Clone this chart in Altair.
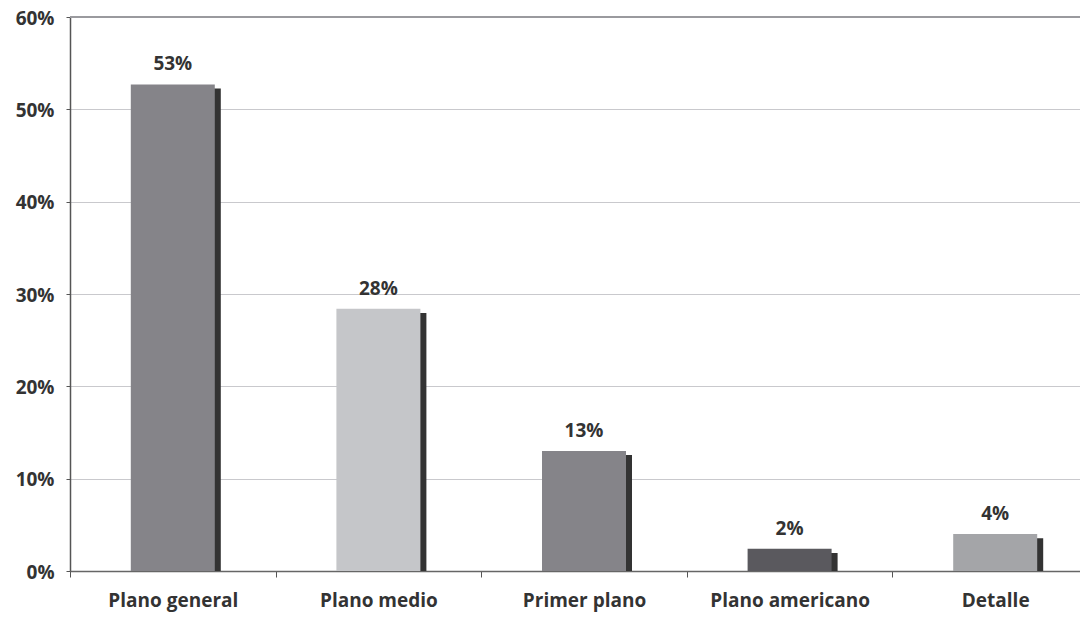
import altair as alt
import pandas as pd

categories = ["Plano general", "Plano medio", "Primer plano", "Plano americano", "Detalle"]
values = [52.7, 28.4, 13.0, 2.4, 4.0]
labels = ["53%", "28%", "13%", "2%", "4%"]
palette = ["#858489", "#c5c6c9", "#858489", "#5a595e", "#a4a5a8"]

df = pd.DataFrame({"cat": categories, "val": values, "lab": labels})

FONT = "Open Sans"
TXT = "#333333"
FS = 19

x = alt.X("cat:N", sort=categories, title=None,
          scale=alt.Scale(paddingInner=0, paddingOuter=0),
          axis=alt.Axis(labelAngle=0, labelFont=FONT, labelFontSize=FS, labelFontWeight="bold",
                        labelColor=TXT, labelPadding=14, tickBand="extent", tickSize=6,
                        tickColor="#555555", domainColor="#666666", domainWidth=1.5, grid=False))
y = alt.Y("val:Q", title=None,
          scale=alt.Scale(domain=[0, 60], nice=False),
          axis=alt.Axis(values=[0, 10, 20, 30, 40, 50, 60], labelExpr="datum.value + '%'",
                        labelFont=FONT, labelFontSize=FS, labelFontWeight="bold", labelColor=TXT,
                        labelPadding=12, labelOffset=1, tickSize=4, tickColor="#555555",
                        domainColor="#555555", domainWidth=1.5, grid=True,
                        gridColor="#c9c9cd", gridWidth=1.2))

base = alt.Chart(df)

shadow = base.transform_calculate(sv="datum.val - 0.45").mark_bar(
    size=84, xOffset=6, color="#333333").encode(
    x=x, y=alt.Y("sv:Q", scale=alt.Scale(domain=[0, 60], nice=False)))
front = base.mark_bar(size=84).encode(
    x=x, y=y,
    color=alt.Color("cat:N", scale=alt.Scale(domain=categories, range=palette), legend=None))
text = base.mark_text(baseline="bottom", dy=-10, font=FONT, fontSize=FS, fontWeight="bold",
                      color=TXT).encode(x=x, y=y, text="lab:N")
top = alt.Chart(pd.DataFrame({"v": [60]})).mark_rule(color="#9a9a9e", strokeWidth=2).encode(
    y=alt.Y("v:Q"))

chart = alt.layer(shadow, front, text, top).properties(
    width=1028, height=554,
    autosize=alt.AutoSizeParams(type="none"),
    padding={"left": 62, "top": 9, "right": -18, "bottom": 48},
).configure_view(stroke=None)

chart.save("out.html", embed_options={"renderer": "svg", "actions": False})
